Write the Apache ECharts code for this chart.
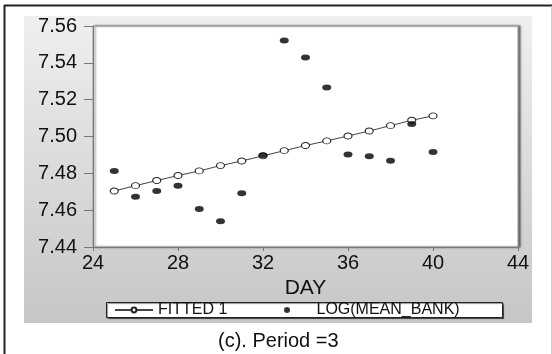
<!DOCTYPE html>
<html>
<head>
<meta charset="utf-8">
<script src="https://cdn.jsdelivr.net/npm/echarts@6/dist/echarts.min.js"></script>
<style>
  html, body { margin: 0; padding: 0; background: #ffffff; }
  #chart { width: 552px; height: 354px; }
</style>
</head>
<body>
<div id="chart"></div>
<script>
// Day index (x) for both series
const days = [25, 26, 27, 28, 29, 30, 31, 32, 33, 34, 35, 36, 37, 38, 39, 40];
// Regression fit
const fitted = [7.4704, 7.4733, 7.4761, 7.4788, 7.4813, 7.4842, 7.4867, 7.4895,
                7.4923, 7.4951, 7.4976, 7.5003, 7.5030, 7.5059, 7.5088, 7.5112];
// Observed log of mean bank value
const logMeanBank = [7.4813, 7.4673, 7.4704, 7.4733, 7.4607, 7.4540, 7.4692, 7.4898,
                     7.5521, 7.5429, 7.5266, 7.4902, 7.4893, 7.4869, 7.5068, 7.4916];
// Axis ticks
const xTicks = [24, 28, 32, 36, 40, 44];
const yTicks = [7.44, 7.46, 7.48, 7.50, 7.52, 7.54, 7.56];

const FONT = '"Liberation Sans", Arial, Helvetica, sans-serif';

const pair = (xs, ys) => xs.map((x, i) => [x, ys[i]]);

const chart = echarts.init(document.getElementById('chart'), null, { renderer: 'canvas' });

chart.setOption({
  animation: false,
  backgroundColor: '#ffffff',
  graphic: [
    // gray panel behind the plot
    {
      type: 'rect', z: -10, silent: true,
      shape: { x: 24, y: 16, width: 508, height: 307 },
      style: {
        fill: new echarts.graphic.LinearGradient(0, 0, 0, 1, [
          { offset: 0, color: '#efefef' },
          { offset: 1, color: '#c6c6c6' }
        ])
      }
    },
    // outer frame
    { type: 'line', z: 10, silent: true, shape: { x1: 4, y1: 5.5, x2: 552, y2: 5.5 }, style: { stroke: '#222', lineWidth: 2 } },
    { type: 'line', z: 10, silent: true, shape: { x1: 4.5, y1: 5, x2: 4.5, y2: 354 }, style: { stroke: '#222', lineWidth: 2 } },
    { type: 'line', z: 10, silent: true, shape: { x1: 551.5, y1: 6, x2: 551.5, y2: 354 }, style: { stroke: '#d0d0d0', lineWidth: 1 } },
    // legend box
    {
      type: 'rect', z: -5, silent: true,
      shape: { x: 106.5, y: 302.5, width: 396, height: 15 },
      style: { fill: '#ffffff', stroke: '#222', lineWidth: 1,
               shadowColor: 'rgba(0,0,0,0.45)', shadowOffsetX: 1, shadowOffsetY: 1, shadowBlur: 1 }
    }
  ],
  title: {
    text: '(c). Period =3',
    left: 218, top: 331, padding: 0,
    textStyle: { fontFamily: FONT, fontSize: 20, fontWeight: 'normal', color: '#111' }
  },
  legend: [
    {
      data: ['FITTED 1'],
      left: 114, top: 302, padding: 0,
      itemWidth: 38, itemHeight: 6, itemGap: 0,
      textStyle: { fontFamily: FONT, fontSize: 16, color: '#111', lineHeight: 16 }
    },
    {
      data: ['LOG(MEAN_BANK)'],
      left: 284, top: 302, padding: 0,
      itemWidth: 9, itemHeight: 6, itemGap: 0,
      icon: 'circle',
      textStyle: { fontFamily: FONT, fontSize: 16, color: '#111', lineHeight: 16, padding: [0, 0, 0, 20] }
    }
  ],
  grid: {
    left: 93, top: 26, right: 34, bottom: 107,
    show: true,
    backgroundColor: '#ffffff',
    borderColor: '#9a9a9a', borderWidth: 1,
    shadowColor: 'rgba(0,0,0,0.55)', shadowOffsetX: 2, shadowOffsetY: 0, shadowBlur: 2
  },
  xAxis: {
    type: 'value', min: 24, max: 44, interval: 4,
    name: 'DAY', nameLocation: 'middle', nameGap: 26,
    nameTextStyle: { fontFamily: FONT, fontSize: 21, color: '#111' },
    axisLine: { show: true, lineStyle: { color: '#777', width: 1 } },
    axisTick: { show: true, length: 4, inside: false, lineStyle: { color: '#777' } },
    axisLabel: {
      margin: 6, fontFamily: FONT, fontSize: 20, color: '#111',
      customValues: xTicks
    },
    splitLine: { show: false }
  },
  yAxis: {
    type: 'value', min: 7.44, max: 7.56, interval: 0.02,
    axisLine: { show: true, lineStyle: { color: '#777', width: 1 } },
    axisTick: { show: true, length: 9, lineStyle: { color: '#777' } },
    axisLabel: {
      margin: 16, fontFamily: FONT, fontSize: 20, color: '#111',
      formatter: v => v.toFixed(2)
    },
    splitLine: { show: false }
  },
  series: [
    {
      name: 'FITTED 1',
      type: 'line',
      data: pair(days, fitted),
      symbol: 'circle', symbolSize: [8, 6], showSymbol: true,
      lineStyle: { color: '#444', width: 1 },
      itemStyle: { color: '#ffffff', borderColor: '#222', borderWidth: 1 },
      z: 2
    },
    {
      name: 'LOG(MEAN_BANK)',
      type: 'scatter',
      data: pair(days, logMeanBank),
      symbol: 'circle', symbolSize: [9, 6],
      itemStyle: { color: '#000000' },
      z: 3
    }
  ]
});
</script>
</body>
</html>
